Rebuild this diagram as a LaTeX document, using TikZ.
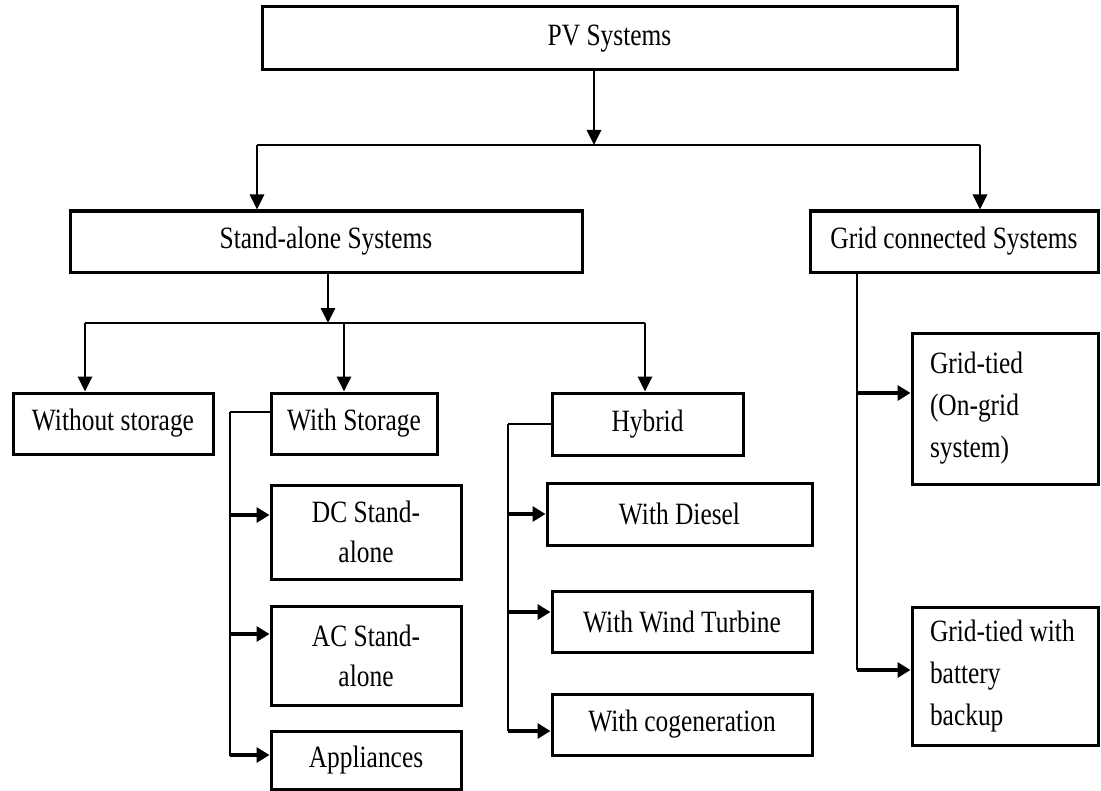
\documentclass[tikz,border=0pt]{standalone}
\usepackage{fontspec}
\setmainfont{Liberation Serif}[FakeStretch=0.82]
\usetikzlibrary{arrows.meta}

\tikzset{
	box/.style={draw, line width=1.5pt, inner sep=0pt, font=\fontsize{15.5pt}{20pt}\selectfont},
	boxsize/.style 2 args={minimum width=#1*0.5pt, minimum height=#2*0.5pt},
	bus/.style={line width=0.6pt},
	tap/.style={line width=1pt},
	arr/.style={line width=1.4pt, -{Triangle[length=7.5pt,width=7pt]}},
	harr/.style={line width=1.6pt, -{Triangle[length=6.5pt,width=7.5pt]}},
}

\begin{document}
\begin{tikzpicture}[x=0.5pt,y=-0.5pt]
		\useasboundingbox (0,0) rectangle (1101,791);
		% boxes
		\node[box, boxsize={695}{63}] (pv) at (609.5,38.5) {PV Systems};
		\node[box, boxsize={512}{61}] (sa) at (326,241.5) {Stand-alone Systems};
		\node[box, boxsize={288}{61}] (gc) at (954,241.5) {Grid connected Systems};
		\node[box, boxsize={200}{61}] (wo) at (113,423.5) {Without storage};
		\node[box, boxsize={166}{61}] (ws) at (354,423.5) {With Storage};
		\node[box, boxsize={191}{62}] (hy) at (647.5,424) {Hybrid};
		\node[box, boxsize={190}{94}, align=center] (dc) at (366,532) {DC Stand-\\alone};
		\node[box, boxsize={190}{99}, align=center] (ac) at (366,655.5) {AC Stand-\\alone};
		\node[box, boxsize={190}{58}] (ap) at (366,760) {Appliances};
		\node[box, boxsize={265}{62}] (di) at (679.5,514) {With Diesel};
		\node[box, boxsize={260}{61}] (wt) at (682,621.5) {With Wind Turbine};
		\node[box, boxsize={260}{61}] (co) at (682,724.5) {With cogeneration};
		\node[box, boxsize={186}{151}, text width=75pt, inner xsep=9pt, align=flush left,
			font=\fontsize{15.5pt}{21pt}\selectfont] (gt) at (1005,408.5) {Grid-tied\\(On-grid\\system)};
		\node[box, boxsize={186}{138}, text width=75pt, inner xsep=9pt, align=flush left,
			font=\fontsize{15.5pt}{21pt}\selectfont] (gb) at (1005,676) {Grid-tied with\\battery\\backup};
		% first level
		\coordinate (j1) at (594,145);
		\coordinate (j1l) at (257,145);
		\coordinate (j1r) at (980,145);
		\draw[arr] (pv.south -| j1) -- (j1);
		\draw[bus] (j1l) -- (j1r);
		\draw[arr] (j1l) -- (j1l |- sa.north);
		\draw[arr] (j1r) -- (j1r |- gc.north);
		% stand-alone level
		\coordinate (j2) at (328,323);
		\coordinate (j2l) at (85,323);
		\coordinate (j2m) at (344,323);
		\coordinate (j2r) at (645,323);
		\draw[arr] (sa.south -| j2) -- (j2);
		\draw[bus] (j2l) -- (j2r);
		\foreach \c/\n in {j2l/wo, j2m/ws, j2r/hy}
			\draw[arr] (\c) -- (\c |- \n.north);
		% with storage
		\coordinate (s0) at (230,412);
		\coordinate (s1) at (230,756);
		\draw[tap] (ws.west |- s0) -- (s0);
		\draw[bus] (s0) -- (s1);
		\foreach \n/\dy in {dc/8.5, ac/10.75, ap/2.5}
			\draw[harr] ([yshift=\dy pt]\n.west -| s0) -- ([yshift=\dy pt]\n.west);
		% hybrid
		\coordinate (h0) at (508,424);
		\coordinate (h1) at (508,731);
		\draw[tap] (hy.west) -- (h0);
		\draw[bus] (h0) -- (h1);
		\foreach \n/\dy in {di/0, wt/4.75, co/-3.25}
			\draw[harr] ([yshift=\dy pt]\n.west -| h0) -- ([yshift=\dy pt]\n.west);
		% grid connected
		\coordinate (g0) at (857,272);
		\coordinate (g1) at (857,670);
		\draw[bus] (gc.south -| g0) -- (g1);
		\foreach \n/\dy in {gt/7.75, gb/3}
			\draw[harr] ([yshift=\dy pt]\n.west -| g0) -- ([yshift=\dy pt]\n.west);
	\end{tikzpicture}
\end{document}
